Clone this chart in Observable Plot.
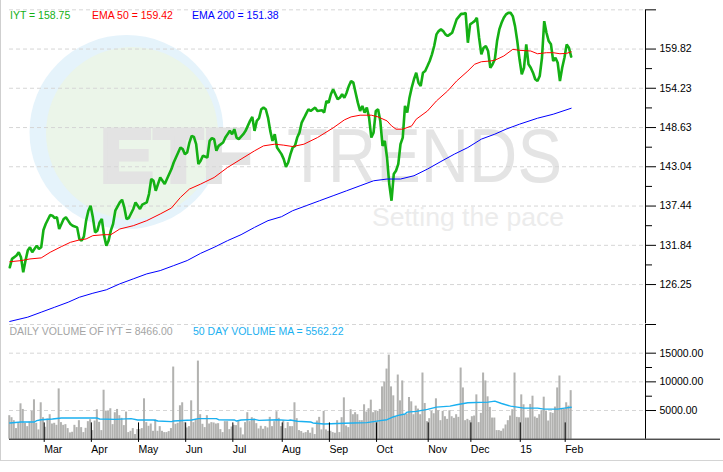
<!DOCTYPE html>
<html><head><meta charset="utf-8">
<script src="https://cdn.jsdelivr.net/npm/d3@7"></script>
<script src="https://cdn.jsdelivr.net/npm/@observablehq/plot@0.6"></script>
<style>
html,body{margin:0;padding:0;background:#fff;}
#wrap{position:relative;width:723px;height:472px;overflow:hidden;font-family:"Liberation Sans",Arial,sans-serif;}
#wm{position:absolute;left:0;top:0;}
.pl{position:absolute;left:0;}
.lg{position:absolute;font-size:10.5px;line-height:12px;white-space:pre;}
#border{position:absolute;left:0;top:0;width:722px;height:460px;border-left:1px solid #cfcfcf;border-bottom:1px solid #d4d4d4;}
</style></head>
<body><div id="wrap">
<svg id="wm" width="723" height="472">
  <circle cx="126.5" cy="132" r="97" fill="#e5f3fb"/>
  <circle cx="132" cy="133" r="86" fill="#ebf5e9"/>
  <text x="100" y="182" font-family="Liberation Sans, Arial, sans-serif" font-size="76" font-weight="bold" fill="#e3e3e3" stroke="#e3e3e3" stroke-width="4" textLength="152" lengthAdjust="spacingAndGlyphs">ETF</text>
  <text x="287" y="182" font-family="Liberation Sans, Arial, sans-serif" font-size="76" fill="#e4e4e4" textLength="275" lengthAdjust="spacingAndGlyphs">TRENDS</text>
  <text x="372" y="226" font-family="Liberation Sans, Arial, sans-serif" font-size="26.5" fill="#ececec" textLength="192" lengthAdjust="spacingAndGlyphs">Setting the pace</text>
</svg>
<div id="border"></div>
<div id="pricePlot" class="pl" style="top:0"></div>
<div id="volPlot" class="pl" style="top:316px"></div>
<div class="lg" style="left:10px;top:9.4px;color:#14b014">IYT = 158.75</div>
<div class="lg" style="left:92px;top:9.4px;color:#ff0000">EMA 50 = 159.42</div>
<div class="lg" style="left:192px;top:9.4px;color:#0000ff">EMA 200 = 151.38</div>
<div class="lg" style="left:9.5px;top:324.8px;color:#a4a4a4">DAILY VOLUME OF IYT = 8466.00</div>
<div class="lg" style="left:193px;top:324.8px;color:#1ab0f0">50 DAY VOLUME MA = 5562.22</div>
</div>
<script>
// ---- categories: trading-day index (0 = first session shown) ----
const monthDays = [14,35,56,77,98,120,141,162,185,204,226,246];
const monthLabels = ["Mar","Apr","May","Jun","Jul","Aug","Sep","Oct","Nov","Dec","15","Feb"];

// ---- IYT close ----
const priceDay = [0,1,3,4,5,6,7,8,9,10,12,13,14,15,16,18,19,20,21,22,23,24,25,26,27,28,30,31,32,33,34,35,36,37,38,39,40,41,42,43,44,45,46,47,49,50,51,52,53,55,56,57,58,59,61,62,63,64,65,66,67,68,69,70,72,73,74,75,76,77,78,79,80,81,82,83,84,85,86,88,89,90,91,92,93,95,96,97,98,99,100,101,102,104,105,106,107,108,109,110,111,112,113,114,115,116,117,118,119,121,122,123,124,125,126,127,128,129,130,131,132,133,134,135,136,137,139,140,141,142,143,144,145,146,147,148,149,150,151,152,153,154,155,156,157,158,159,160,161,162,163,164,165,166,167,168,169,170,171,172,173,174,175,176,177,178,179,180,181,182,183,184,185,186,187,188,189,190,191,192,193,194,195,196,197,198,199,201,202,203,204,205,206,207,208,209,210,211,212,213,214,215,216,217,218,219,220,221,222,223,224,225,226,227,228,229,230,231,232,233,234,235,236,237,238,239,240,241,242,243,244,245,246,247,248,249,250];
const priceClose = [128.71,129.91,130.38,130.85,130.13,128.00,129.66,131.09,131.56,130.85,131.80,131.33,131.56,134.03,134.88,136.17,136.07,135.74,135.83,134.17,134.88,135.60,135.83,135.36,134.88,134.64,134.40,132.75,132.51,133.08,135.36,136.78,137.49,135.83,133.69,133.93,135.11,135.60,133.22,131.80,132.51,133.93,134.88,136.78,137.96,138.34,137.25,135.60,135.74,137.02,137.96,137.49,137.02,137.63,137.96,139.15,141.29,141.04,139.62,140.57,141.51,141.04,140.57,141.29,142.71,143.65,144.36,145.07,145.78,145.55,144.84,145.07,146.49,147.45,147.30,146.26,143.42,143.89,144.60,144.36,146.73,147.12,146.98,145.31,146.02,146.49,147.20,147.69,148.16,147.69,148.40,147.20,146.98,147.69,148.16,148.87,149.58,150.15,148.16,149.58,149.96,151.24,151.47,151.24,150.05,148.16,146.73,147.69,145.78,144.84,144.13,143.03,143.65,144.84,145.78,146.02,147.20,147.91,149.34,149.96,150.62,151.24,151.00,151.24,151.47,151.00,151.10,150.76,152.42,152.18,153.38,154.09,153.38,152.67,152.89,153.38,152.89,153.60,154.56,155.27,155.03,153.60,152.18,151.00,151.71,150.76,151.47,150.05,147.20,147.91,151.00,151.24,149.58,146.02,146.73,144.36,140.57,138.20,142.00,142.47,143.42,146.26,147.20,151.71,150.76,152.89,154.32,155.51,156.45,155.03,154.56,156.45,156.69,157.40,158.12,159.07,160.25,161.91,162.38,162.62,162.38,161.91,161.67,161.91,162.14,163.09,164.05,164.84,164.84,164.98,160.72,163.33,163.56,163.80,164.27,161.43,159.07,160.01,160.25,159.54,157.16,157.65,158.36,160.96,162.62,163.56,164.27,164.76,164.98,164.98,164.51,163.09,160.96,158.36,156.22,157.16,160.49,157.65,157.16,156.45,155.51,155.27,155.98,158.58,163.80,162.14,160.96,160.49,158.11,158.58,157.87,155.27,157.16,158.58,160.49,160.01,158.75];

// ---- EMA 50 ----
const ema50Day = [0,5,9,14,18,23,27,31,34,37,42,45,49,55,61,67,72,76,80,85,91,97,103,109,113,118,122,126,131,137,144,149,152,156,161,164,168,170,172,175,179,181,186,190,195,199,204,207,210,214,216,220,224,227,232,235,239,242,245,248,250];
const ema50 = [129.50,129.66,129.90,130.05,130.85,131.66,132.27,132.61,132.75,133.22,133.36,133.36,134.17,134.64,135.36,136.31,137.16,138.67,139.86,140.57,141.51,142.94,144.13,145.31,146.02,146.26,146.12,145.92,146.26,147.20,148.58,149.72,150.15,150.39,150.39,150.15,149.58,148.87,148.40,148.40,148.87,149.82,150.99,152.42,153.85,155.27,156.69,157.65,158.01,158.12,158.22,158.83,159.78,159.64,159.54,159.15,159.30,159.30,159.15,159.21,159.42];

// ---- EMA 200 ----
const ema200Day = [0,8,14,20,26,31,37,43,49,55,61,67,73,79,85,91,97,103,109,115,121,126,132,138,144,150,156,162,168,174,180,186,192,198,204,210,216,221,227,235,242,250];
const ema200 = [120.99,121.60,122.31,123.02,123.73,124.44,125.01,125.50,126.35,127.06,127.77,128.24,128.95,129.67,130.70,131.56,132.51,133.36,134.40,135.36,135.92,136.78,137.49,138.20,138.91,139.62,140.33,141.04,141.29,141.29,141.76,142.71,143.79,144.84,145.78,146.98,147.69,148.40,149.11,149.96,150.53,151.38];

// ---- daily volume (one per trading day, day = index) ----
const volume = [4100,3750,3230,1850,2770,6170,5190,2770,2190,3000,
4850,6870,2770,1620,6350,3750,2080,3520,4270,2650,
2770,2420,8770,2890,2420,2540,1850,1100,1210,2420,
2020,3230,2020,1150,1900,3060,3400,1500,3170,5140,
2940,1500,8540,4900,4850,5310,2540,4620,5190,4100,
3640,2370,4730,1150,1380,1850,810,1670,1670,1850,
7040,2890,2250,2650,1380,3400,1380,2190,1380,1150,
1150,1330,1850,12580,2600,2770,5830,6350,2890,1960,
2190,6690,2890,3460,13620,4270,2600,2020,4100,2650,
2890,2830,2650,2710,1670,1150,3060,3060,1670,2130,
2420,2370,3060,1960,750,2890,4620,3060,3750,3520,
2710,1790,2250,1730,2190,1960,3810,2190,3060,4790,
3640,2190,3230,1850,2890,
2190,2190,6350,3580,1500,1330,1040,1150,1500,1040,
1960,810,3170,3810,1620,4850,1620,1380,1380,1150,
1040,3230,1150,3750,7210,2310,2020,5140,4270,4620,
4270,3230,3230,6000,4730,5310,6810,4620,4900,4850,
5190,9120,9980,12230,14660,9120,7560,3810,11190,6690,
10160,4270,4390,7270,6520,4270,5770,5250,4270,11540,
6230,3060,3580,4850,4440,7040,4960,3230,4850,3920,
3460,4960,3920,3640,4270,3810,12410,8940,3230,3460,
3230,3920,4040,7730,2890,4500,11540,10160,7390,5540,
3690,3690,1500,1500,1380,1790,2480,3230,4040,5140,
11540,3810,3750,7730,6000,3690,3690,6060,7500,3870,
3640,4270,4960,7330,4900,3170,4620,4500,5600,8940,
11020,5370,5250,6350,5770,8466];

// ---- 50-day volume moving average ----
const volMaDay = [0,5,11,12,14,19,23,31,39,40,47,54,57,64,66,72,73,81,84,92,93,100,101,103,109,111,119,124,125,128,134,135,140,149,159,165,168,171,173,176,177,181,186,190,196,199,204,213,216,219,223,229,235,238,244,247,250];
const volMa = [2830,3000,3000,3230,3400,3520,3690,3690,3690,3520,3460,3580,3350,3350,3170,3060,3170,3350,3580,3580,3400,3350,3170,3350,3460,3290,3400,3290,3350,3120,3000,2830,2650,2770,2890,3230,3400,3920,4150,4390,4730,4850,5190,5600,5770,6000,6350,6460,6640,6230,5770,5420,5420,5250,5250,5420,5562.22];

// ---- axis tick values ----
const priceTicks = [126.25,131.84,137.44,143.04,148.63,154.23,159.82,165.41];
const priceLabeled = [126.25,131.84,137.44,143.04,148.63,154.23,159.82];
const priceMinor = [129.05,134.64,140.24,145.83,151.43,157.03];
const volTicks = [5000,10000,15000,20000];
const volLabeled = [5000,10000,15000];
const volMinor = [7500,12500];

// ---- build tables ----
const priceData = priceDay.map((d,i)=>({day:d, v:priceClose[i]}));
const ema50Data = ema50Day.map((d,i)=>({day:d, v:ema50[i]}));
const ema200Data = ema200Day.map((d,i)=>({day:d, v:ema200[i]}));
const volData = volume.map((v,i)=>({day:i, v}));
const volMaData = volMaDay.map((d,i)=>({day:d, v:volMa[i]}));

const FONT = "Liberation Sans, Arial, sans-serif";
const xDomain = [-0.12, 283.1];
const baseEnd = 316.5;
const GRID = "#d6d6d6";
const DASH = "4,3";

const price = Plot.plot({
  width: 723, height: 324,
  marginLeft: 9, marginRight: 78, marginTop: 9.3, marginBottom: 0.7,
  style: {background: "transparent", fontFamily: FONT, fontSize: "10.5px", overflow: "visible", color: "#000"},
  x: {domain: xDomain, axis: null},
  y: {domain: [120.655, 165.415], axis: null},
  marks: [
    Plot.ruleY(priceTicks, {stroke: GRID, strokeDasharray: DASH}),
    Plot.line(priceData, {x: "day", y: "v", stroke: "#14b014", strokeWidth: 2.6, strokeLinejoin: "miter"}),
    Plot.line(ema50Data, {x: "day", y: "v", stroke: "#ff0000", strokeWidth: 1}),
    Plot.line(ema200Data, {x: "day", y: "v", stroke: "#0000ff", strokeWidth: 1}),
    Plot.ruleX([xDomain[1]], {stroke: "#000"}),
    Plot.axisY({anchor: "right", ticks: priceTicks, tickSize: 10, tickPadding: 4, label: null,
      tickFormat: d => priceLabeled.includes(d) ? d.toFixed(2) : "", fontSize: 10.5}),
    Plot.axisY({anchor: "right", ticks: priceMinor, tickSize: 6, label: null, tickFormat: () => ""})
  ]
});
document.getElementById("pricePlot").appendChild(price);

const vol = Plot.plot({
  width: 723, height: 156,
  marginLeft: 9, marginRight: 78, marginTop: 8, marginBottom: 33.3,
  style: {background: "transparent", fontFamily: FONT, fontSize: "10.5px", overflow: "visible", color: "#000"},
  x: {domain: xDomain, axis: null},
  y: {domain: [0, 20000], axis: null},
  marks: [
    Plot.ruleY(volTicks, {stroke: GRID, strokeDasharray: DASH}),
    Plot.rectY(volData, {x1: d => d.day - 0.45, x2: d => d.day + 0.45, y: "v", fill: "#b2b2b0"}),
    Plot.line(volMaData, {x: "day", y: "v", stroke: "#1ab0f0", strokeWidth: 1.4}),
    Plot.ruleY([0], {x1: xDomain[0], x2: baseEnd, stroke: "#000"}),
    Plot.ruleX([xDomain[1]], {stroke: "#000"}),
    Plot.axisY({anchor: "right", ticks: volTicks, tickSize: 10, tickPadding: 4, label: null,
      tickFormat: d => volLabeled.includes(d) ? d.toFixed(2) : "", fontSize: 10.5}),
    Plot.axisY({anchor: "right", ticks: volMinor, tickSize: 6, label: null, tickFormat: () => ""}),
    Plot.axisX({anchor: "bottom", ticks: monthDays, tickSize: 19.5, tickPadding: 3, label: null,
      tickFormat: d => monthLabels[monthDays.indexOf(d)], textAnchor: "start", dx: 3, dy: -16.3, fontSize: 10.5})
  ]
});
document.getElementById("volPlot").appendChild(vol);
</script>
</body></html>
